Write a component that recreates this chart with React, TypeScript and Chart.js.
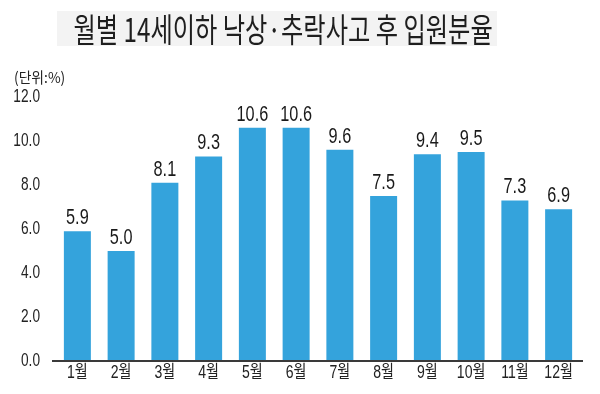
import React, { useEffect, useRef } from "react";
import { Chart, registerables } from "chart.js";

Chart.register(...registerables);

const months = ["1월", "2월", "3월", "4월", "5월", "6월", "7월", "8월", "9월", "10월", "11월", "12월"];
const rates = [5.9, 5.0, 8.1, 9.3, 10.6, 10.6, 9.6, 7.5, 9.4, 9.5, 7.3, 6.9];
const yTicks = [0, 2, 4, 6, 8, 10, 12];
const titleText = "월별 14세이하 낙상·추락사고 후 입원분율";
const unitText = "(단위:%)";

const FONT = "'Liberation Sans', 'Noto Sans CJK KR', sans-serif";
const BAR = "#34a3dc";

function drawScaled(ctx: any, text: string, x: number, y: number, sx: number, align: string, baseline: string) {
  ctx.save();
  ctx.translate(x, y);
  ctx.scale(sx, 1);
  ctx.textAlign = align;
  ctx.textBaseline = baseline;
  ctx.fillText(text, 0, 0);
  ctx.restore();
}

const textPlugin = {
  id: "textPlugin",
  afterDatasetsDraw(chart: any) {
    const ctx = chart.ctx;
    const a = chart.chartArea;
    const meta = chart.getDatasetMeta(0);
    ctx.save();
    // axis line
    ctx.strokeStyle = "#3a3a3a";
    ctx.lineWidth = 2;
    ctx.beginPath();
    ctx.moveTo(a.left - 3.5, a.bottom);
    ctx.lineTo(a.right + 2.5, a.bottom);
    ctx.stroke();

    // value labels
    ctx.fillStyle = "#1a1a1a";
    ctx.font = `22px ${FONT}`;
    meta.data.forEach((bar: any, i: number) => {
      const v = chart.data.datasets[0].data[i] as number;
      drawScaled(ctx, v.toFixed(1), bar.x, bar.y - 7, 0.74, "center", "alphabetic");
    });

    // y tick labels
    const ys = chart.scales.y;
    ctx.fillStyle = "#222";
    ctx.font = `19px ${FONT}`;
    yTicks.forEach((t) => {
      drawScaled(ctx, t.toFixed(1), 40, ys.getPixelForValue(t), 0.72, "right", "middle");
    });

    // x tick labels
    const xs = chart.scales.x;
    ctx.font = `18px ${FONT}`;
    months.forEach((m, i) => {
      drawScaled(ctx, m, xs.getPixelForTick(i), a.bottom + 12.5, 0.78, "center", "middle");
    });
    ctx.restore();
  },
};

export default function App() {
  const ref = useRef<HTMLCanvasElement>(null);
  useEffect(() => {
    document.body.style.margin = "0";
    const chart = new Chart(ref.current!, {
      type: "bar",
      data: {
        labels: months,
        datasets: [
          {
            data: rates,
            backgroundColor: BAR,
            borderWidth: 0,
            barPercentage: 0.617,
            categoryPercentage: 1,
          },
        ],
      },
      options: {
        animation: false,
        responsive: false,
        devicePixelRatio: 1,
        layout: { padding: { top: 97, right: 19.5, bottom: 0, left: 0 } },
        plugins: { legend: { display: false }, tooltip: { enabled: false }, title: { display: false } },
        scales: {
          x: {
            grid: { display: false, drawTicks: false },
            border: { display: false },
            ticks: { display: false },
            afterFit: (s: any) => {
              s.height = 33;
            },
          },
          y: {
            min: 0,
            max: 12,
            grid: { display: false, drawTicks: false },
            border: { display: false },
            ticks: { display: false, stepSize: 2 },
            afterFit: (s: any) => {
              s.width = 55.5;
            },
          },
        },
      },
      plugins: [textPlugin],
    });
    return () => chart.destroy();
  }, []);

  return (
    <div style={{ position: "relative", width: 600, height: 394, background: "#fff", overflow: "hidden" }}>
      <canvas ref={ref} width={600} height={394} style={{ position: "absolute", left: 0, top: 0 }} />
      <div
        style={{
          position: "absolute",
          left: 57,
          top: 11,
          width: 440,
          height: 35,
          background: "#f3f3f3",
        }}
      />
      <div
        style={{
          position: "absolute",
          left: 0,
          top: 8,
          width: 554,
          height: 40,
          lineHeight: "40px",
          textAlign: "center",
          whiteSpace: "nowrap",
          fontFamily: "'Noto Sans CJK KR', sans-serif",
          fontSize: 33,
          color: "#1e1e1e",
          transform: "scaleX(0.735)",
          transformOrigin: "277px 0",
        }}
      >
        {titleText}
      </div>
      <div
        style={{
          position: "absolute",
          left: 14,
          top: 67,
          fontFamily: "'Noto Sans CJK KR', sans-serif",
          fontSize: 15,
          lineHeight: "20px",
          color: "#222",
          whiteSpace: "nowrap",
          transform: "scaleX(0.92)",
          transformOrigin: "0 0",
        }}
      >
        {unitText}
      </div>
    </div>
  );
}
